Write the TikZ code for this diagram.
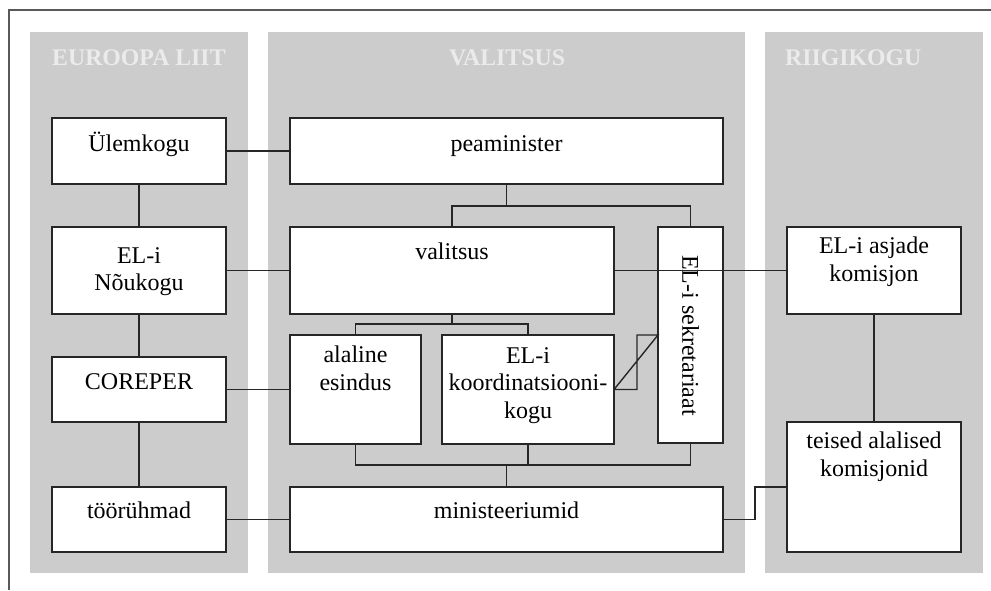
\documentclass[tikz,border=0pt]{standalone}
\usepackage{fontspec}
\setmainfont{Liberation Serif}
\begin{document}
\begin{tikzpicture}[x=1pt,y=-1pt,
    column/.style={fill=black!20,draw=none},
    box/.style={draw=black!85,line width=1.6pt,fill=white,anchor=north west,inner sep=0pt,outer sep=0pt},
    txt/.style={anchor=north,inner sep=0pt,align=center,font=\fontsize{24}{27.5}\selectfont,execute at begin node={\rule{0pt}{21pt}}},
    head/.style={inner sep=0pt,text=white!92!black,font=\fontsize{23.8}{28}\selectfont\bfseries},
    link/.style={draw=black!85,line width=1.4pt}]
\useasboundingbox (0,0) rectangle (991,590);
\draw[line width=1.2pt,black!65] (9,590) -- (9,10) -- (991,10);
\fill[column] (30,32) rectangle (248,573);
\fill[column] (268,32) rectangle (745,573);
\fill[column] (765,32) rectangle (983,573);
\node[head,anchor=base west] (hel) at (52,65) {EUROOPA LIIT};
\node[head,anchor=base] (hval) at (507,65) {VALITSUS};
\node[head,anchor=base west] (hrii) at (785,65) {RIIGIKOGU};

\node[box,minimum width=174pt,minimum height=66pt] (ulem) at (52,118) {};
\node[box,minimum width=174pt,minimum height=87pt] (nouk) at (52,227) {};
\node[box,minimum width=174pt,minimum height=65pt] (corep) at (52,357) {};
\node[box,minimum width=174pt,minimum height=65pt] (toor) at (52,487) {};
\node[box,minimum width=433pt,minimum height=66pt] (peam) at (290,118) {};
\node[box,minimum width=324pt,minimum height=87pt] (valit) at (290,227) {};
\node[box,minimum width=65pt,minimum height=216pt] (sekr) at (658,227) {};
\node[box,minimum width=131pt,minimum height=109pt] (alal) at (290,335) {};
\node[box,minimum width=172pt,minimum height=109pt] (koord) at (442,335) {};
\node[box,minimum width=433pt,minimum height=65pt] (minis) at (290,487) {};
\node[box,minimum width=174pt,minimum height=87pt] (asjad) at (787,227) {};
\node[box,minimum width=174pt,minimum height=130pt] (teised) at (787,422) {};

\node[txt] (ulem-t) at ([yshift=-12pt]ulem.north) {Ülemkogu};
\node[txt] (nouk-t) at ([yshift=-20pt]nouk.north) {EL-i\\Nõukogu};
\node[txt] (corep-t) at ([yshift=-11pt]corep.north) {COREPER};
\node[txt] (toor-t) at ([yshift=-10pt]toor.north) {töörühmad};
\node[txt] (peam-t) at ([yshift=-12pt]peam.north) {peaminister};
\node[txt] (valit-t) at ([yshift=-11pt]valit.north) {valitsus};
\node[txt] (alal-t) at ([yshift=-11pt]alal.north) {alaline\\esindus};
\node[txt] (koord-t) at ([yshift=-12pt]koord.north) {EL-i\\koordinatsiooni-\\kogu};
\node[txt] (minis-t) at ([yshift=-10pt]minis.north) {ministeeriumid};
\node[txt] (asjad-t) at ([yshift=-10pt]asjad.north) {EL-i asjade\\komisjon};
\node[txt] (teised-t) at ([yshift=-10pt]teised.north) {teised alalised\\komisjonid};
\node[inner sep=0pt,font=\fontsize{24}{27.5}\selectfont,rotate=-90,anchor=west] (sekr-t) at ([yshift=-28pt]sekr.north) {EL-i sekretariaat};

\draw[link] (ulem) -- (peam);
\draw[link] (ulem) -- (nouk);
\draw[link] (nouk) -- (corep);
\draw[link] (corep) -- (toor);
\draw[link] (nouk) -- (valit);
\draw[link] (corep) -- (alal);
\draw[link] (toor) -- (minis);
\draw[link] (peam.south) -- ++(0,22) coordinate (pj);
\draw[link] (valit.north) |- (pj) -| (sekr.north);
\draw[link] (valit.south) -- ++(0,10) coordinate (vj);
\draw[link] (alal.north) |- (vj) -| (koord.north);
\coordinate (mj) at ([yshift=22pt]minis.north);
\draw[link] (alal.south) |- (mj) -| (sekr.south);
\draw[link] (koord.south) -- (koord.south |- mj);
\draw[link] (mj) -- (minis.north);
\draw[link] (koord.east) -- ++(23,0) |- (sekr.west |- koord.north) -- (koord.east);
\draw[link] (valit) -- (asjad);
\draw[link] (asjad) -- (teised);
\draw[link] (minis.east) -- ++(32,0) |- (teised.west |- minis.north);
\end{tikzpicture}
\end{document}
